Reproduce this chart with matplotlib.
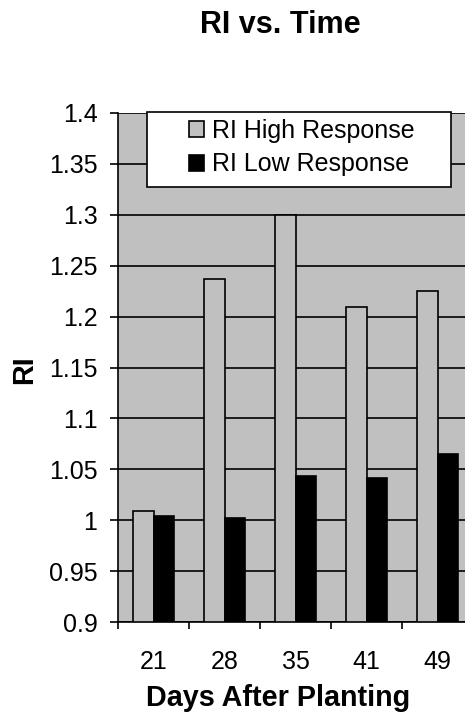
import matplotlib
matplotlib.use("Agg")
import matplotlib.pyplot as plt
from matplotlib.patches import Rectangle
import numpy as np

categories = ["21", "28", "35", "41", "49"]
high_response = [1.009, 1.237, 1.300, 1.209, 1.225]
low_response = [1.004, 1.002, 1.043, 1.041, 1.065]
y_ticks = [0.9, 0.95, 1.0, 1.05, 1.1, 1.15, 1.2, 1.25, 1.3, 1.35, 1.4]

plt.rcParams['font.family'] = ['Liberation Sans', 'DejaVu Sans']

W, H = 465, 717
fig = plt.figure(figsize=(W/100, H/100), dpi=100)
ax = fig.add_axes([118/W, 1-622/H, 355/W, 509/H])
ax.set_facecolor('#C0C0C0')

x = np.arange(len(categories))
w = 1/3.5
ax.bar(x - w/2, high_response, width=w, color='#C0C0C0', edgecolor='black',
       linewidth=1.2, label='RI High Response', zorder=3)
ax.bar(x + w/2, low_response, width=w, color='black', edgecolor='black',
       linewidth=1.2, label='RI Low Response', zorder=3)

ax.set_ylim(0.9, 1.4)
ax.set_xlim(-0.5, len(categories) - 0.5)
ax.set_yticks(y_ticks)
ax.set_yticklabels([f'{v:g}' for v in y_ticks])
ax.yaxis.grid(True, color='black', linewidth=1.2, zorder=0)
ax.set_axisbelow(True)

ax.set_xticks(x)
ax.set_xticklabels(categories)
ax.set_xticks(np.arange(-0.5, len(categories), 1), minor=True)
ax.tick_params(axis='x', which='major', length=0, pad=20, labelsize=18)
ax.tick_params(axis='x', which='minor', length=5, width=1.2, direction='out')
ax.tick_params(axis='y', length=5.8, width=1.2, direction='out', pad=9, labelsize=18)

for s in ['top', 'right']:
    ax.spines[s].set_visible(False)
for s in ['left', 'bottom']:
    ax.spines[s].set_linewidth(1.2)
    ax.spines[s].set_zorder(5)

# legend box
box = Rectangle((147/W, 1-187/H), (451-147)/W, (187-112)/H, transform=fig.transFigure,
                facecolor='white', edgecolor='black', linewidth=1.2, zorder=9)
fig.add_artist(box)
leg = fig.legend(loc='upper left', bbox_to_anchor=(189/W, 1-119/H), fontsize=18,
                 frameon=False, handlelength=0.6, handleheight=0.6, handletextpad=0.3,
                 borderpad=0.0, labelspacing=0.38, borderaxespad=0)
leg.set_zorder(10)

fig.text(280/W, 1-33/H, 'RI vs. Time', ha='center', va='baseline',
         fontsize=22, fontweight='bold')
fig.text(278/W, 1-706/H, 'Days After Planting', ha='center', va='baseline',
         fontsize=20.7, fontweight='bold')
fig.text(24/W, 1-370/H, 'RI', ha='center', va='center', rotation=90,
         fontsize=20.7, fontweight='bold')

fig.savefig('out.png', dpi=100)
